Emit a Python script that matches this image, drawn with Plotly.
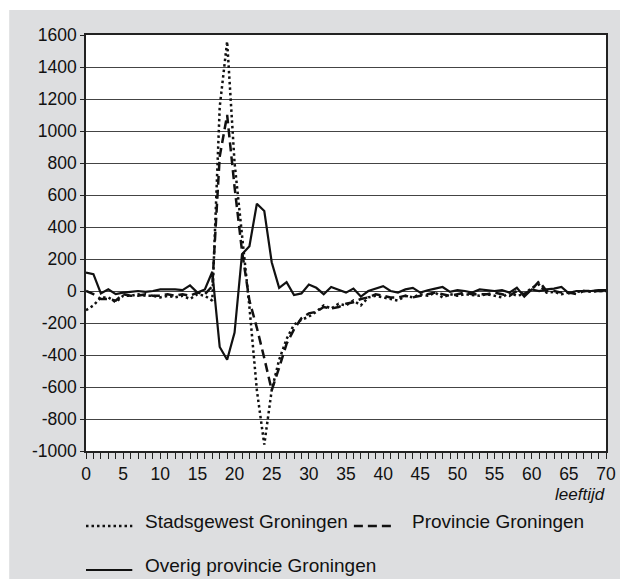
import plotly.graph_objects as go

ages = list(range(0, 71))

stadsgewest = [-120, -90, -40, -40, -70, -30, -30, -20, -30, -30,
               -40, -30, -40, -30, -50, -20, -30, -60, 1150, 1560,
               800, 330, -100, -620, -960, -620, -430, -300, -210, -180,
               -160, -130, -90, -110, -80, -90, -60, -90, -40, -30,
               -40, -50, -60, -30, -40, -20, -30, -10, -40, -20,
               -30, -20, -25, -30, -20, -30, -40, -10, -30, -20,
               20, 40, -10, -5, -20, -10, -5, 0, -5, 0, 0]

provincie = [0, -20, -50, -50, -60, -20, -30, -30, -20, -30,
             -30, -20, -30, -20, -30, -10, -20, 30, 840, 1100,
             650, 250, -60, -230, -420, -620, -480, -330, -240, -170,
             -140, -130, -100, -110, -100, -80, -70, -50, -40, -20,
             -30, -40, -40, -30, -40, -30, -20, -10, -20, -30,
             -20, -10, -20, -20, -20, -10, -20, -30, 0, -20,
             10, 60, 0, 0, -10, -10, -20, 0, 0, 0, 0]

overig = [115, 105, -15, 10, -20, -10, -5, 0, -5, 0,
          10, 10, 10, 5, 35, -10, 10, 120, -350, -430,
          -260, 230, 280, 545, 500, 180, 20, 55, -25, -15,
          40, 20, -20, 25, 5, -10, 15, -35, 0, 15,
          30, 0, -10, 10, 20, -10, 5, 15, 25, -5,
          5, 0, -10, 10, 5, 0, 5, -10, 20, -35,
          10, 0, 10, 15, 25, -15, 0, 0, 0, 5, 5]

xtick_vals = list(range(0, 71))
xtick_text = [str(v) if v % 5 == 0 else "" for v in xtick_vals]
ytick_vals = list(range(-1000, 1601, 200))
ytick_text = [str(v) for v in ytick_vals]

# page is rendered with an 8px body margin: figure coords = page coords - 8
OFF = 8
W, H = 628 - OFF, 579 - OFF
L, R, T, B = 86 - OFF, 628 - 614, 35 - OFF, 579 - 451
pw, ph = W - L - R, H - T - B

def px(x):
    return (x - OFF - L) / pw

def py(y):
    return (H - B - (y - OFF)) / ph

FONT = "Liberation Sans, Arial, sans-serif"
INK = "#111"
DOT = dict(color=INK, width=2.5, dash="2.5px,3px")
DASH = dict(color=INK, width=2.5, dash="9px,5px")
SOLID = dict(color=INK, width=2.2)

fig = go.Figure()
fig.add_trace(go.Scatter(x=ages, y=stadsgewest, mode="lines", name="Stadsgewest Groningen", line=DOT))
fig.add_trace(go.Scatter(x=ages, y=provincie, mode="lines", name="Provincie Groningen", line=DASH))
fig.add_trace(go.Scatter(x=ages, y=overig, mode="lines", name="Overig provincie Groningen", line=SOLID))

shapes = [
    dict(type="rect", xref="paper", yref="paper", x0=px(8), x1=px(640), y0=py(590), y1=py(10),
         fillcolor="#dddee0", line=dict(width=0), layer="below"),
    dict(type="rect", xref="paper", yref="paper", x0=0, x1=1, y0=0, y1=1,
         fillcolor="white", line=dict(width=0), layer="below"),
    dict(type="line", xref="paper", yref="paper", x0=px(86), x1=px(133), y0=py(526), y1=py(526), line=DOT),
    dict(type="line", xref="paper", yref="paper", x0=px(358), x1=px(399), y0=py(526), y1=py(526), line=DASH),
    dict(type="line", xref="paper", yref="paper", x0=px(86), x1=px(133), y0=py(570), y1=py(570), line=SOLID),
]

def ann(text, x, y, anchor="left", size=19):
    return dict(text=text, xref="paper", yref="paper", x=px(x), y=py(y),
                xanchor=anchor, yanchor="middle", showarrow=False,
                font=dict(size=size, color=INK, family=FONT))

annotations = [
    ann("<i>leeftijd</i>", 615, 494, "right", 17),
    ann("Stadsgewest Groningen", 144, 521),
    ann("Provincie Groningen", 415, 521),
    ann("Overig provincie Groningen", 144, 565),
]

fig.update_layout(
    width=W, height=H,
    margin=dict(l=L, r=R, t=T, b=B, pad=0),
    paper_bgcolor="white",
    plot_bgcolor="white",
    showlegend=False,
    font=dict(family=FONT, size=18, color=INK),
    shapes=shapes,
    annotations=annotations,
)
fig.update_xaxes(range=[0, 70], tickmode="array", tickvals=xtick_vals, ticktext=xtick_text,
                 ticks="outside", ticklen=6, tickwidth=1, tickcolor="#222",
                 showgrid=False, zeroline=False, showline=True, linecolor="#222", linewidth=1.5,
                 mirror=True, tickfont=dict(size=17.5, color=INK), fixedrange=True)
fig.update_yaxes(range=[-1000, 1600], tickmode="array", tickvals=ytick_vals, ticktext=ytick_text,
                 ticks="outside", ticklen=4, tickwidth=1, tickcolor="#222",
                 showgrid=True, gridcolor="#444", gridwidth=1,
                 zeroline=False, showline=True, linecolor="#222", linewidth=1.5,
                 mirror=True, tickfont=dict(size=17.5, color=INK), fixedrange=True)

fig.write_html("out.html")
